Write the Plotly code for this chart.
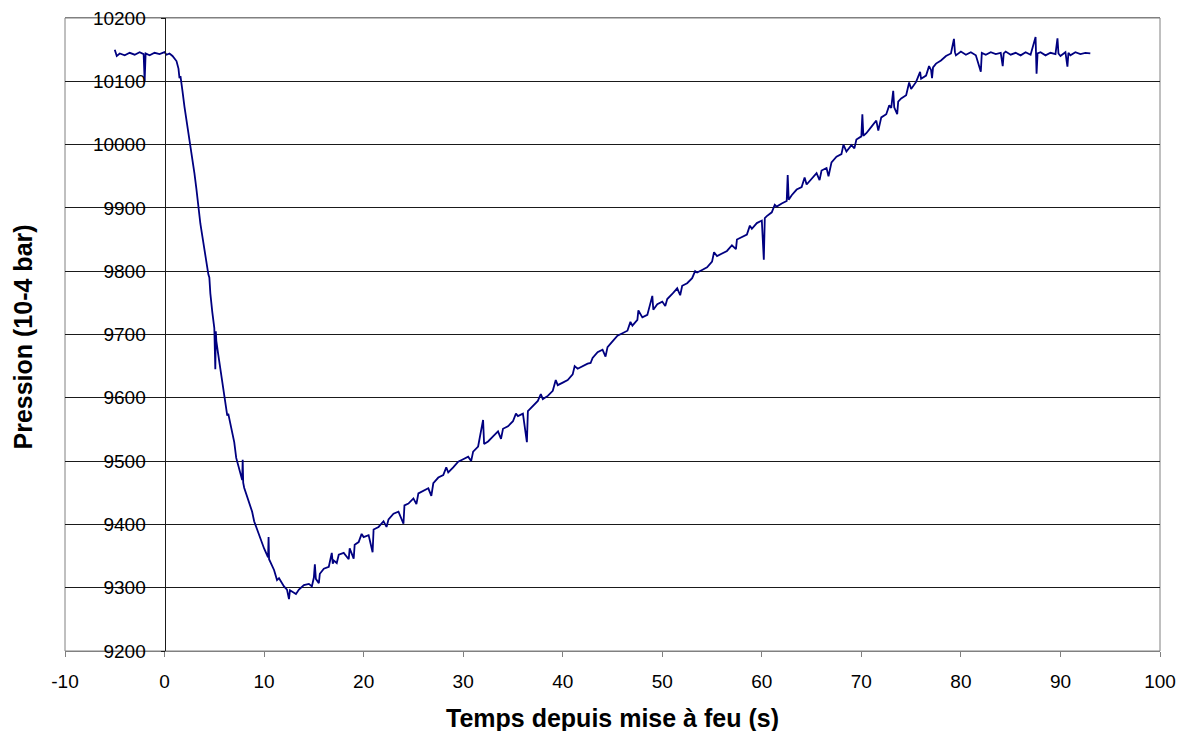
import plotly.graph_objects as go

# ---- data (time in s, pressure in 1e-4 bar) ----
t_drop = [-5.0, -4.8, -4.5, -4.0, -3.5, -3.0, -2.5, -2.1, -2.0, -1.9, -1.5, -1.0, -0.5,
          0.0, 0.2, 0.5, 0.8, 1.0, 1.2, 1.4, 1.5, 1.6, 1.8, 2.0, 2.2, 2.4, 2.6, 2.8,
          3.0, 3.2, 3.4, 3.6, 3.8, 4.0, 4.2, 4.4, 4.6, 4.8, 5.0, 5.1, 5.15, 5.2, 5.4,
          5.6, 5.8, 6.0, 6.2, 6.4, 6.6, 6.8, 7.0, 7.2, 7.4, 7.6, 7.8, 7.85, 7.9, 8.0,
          8.5, 9.0, 9.5, 10.0, 10.4, 10.45, 10.5, 11.0, 11.5, 12.0, 12.3, 12.5, 12.6,
          13.0, 13.5]
p_drop = [10150, 10140, 10144, 10141, 10145, 10142, 10146, 10143, 10100, 10144, 10141, 10145, 10143,
          10146, 10142, 10144, 10140, 10136, 10132, 10120, 10105, 10108, 10085, 10060, 10040, 10018, 9998, 9980,
          9955, 9930, 9897, 9875, 9855, 9833, 9812, 9795, 9765, 9735, 9710, 9645, 9705, 9690, 9668,
          9647, 9625, 9605, 9590, 9575, 9560, 9545, 9530, 9505, 9492, 9480, 9470, 9502, 9466, 9458,
          9432, 9405, 9383, 9362, 9348, 9380, 9345, 9328, 9315, 9302, 9297, 9282, 9296,
          9292, 9297]

t_rise = [14.0, 14.5, 15.0, 15.1, 15.2, 15.5, 15.6, 16.0, 16.5, 16.8, 16.9, 17.0, 17.5, 18.0, 18.5,
          18.6, 19.0, 19.1, 19.5, 20.0, 20.5, 20.9, 21.0, 21.5, 22.0, 22.5, 23.0, 23.5, 24.0, 24.1,
          24.5, 25.0, 25.5, 26.0, 26.5, 27.0, 27.5, 28.0, 28.5, 29.0, 29.5, 30.0, 30.5, 31.0, 31.5,
          32.0, 32.1, 32.5, 33.0, 33.5, 34.0, 34.5, 35.0, 35.5, 36.0, 36.4, 36.5, 37.0, 37.5, 38.0,
          38.5, 39.0, 39.5, 40.0, 40.5, 41.0, 41.5, 42.0, 42.5, 43.0, 43.5, 44.0, 44.5, 45.0, 45.5,
          46.0, 46.5, 47.0, 47.5, 48.0, 48.5, 49.0, 49.1, 49.5, 50.0, 50.5, 51.0, 51.5, 52.0, 52.5,
          53.0, 53.5, 54.0, 54.5, 55.0, 55.5, 56.0, 56.5, 57.0, 57.5, 58.0, 58.5, 59.0, 59.5, 60.0,
          60.2, 60.3, 60.5, 61.0, 61.5, 62.0, 62.5, 62.6, 62.7, 63.0, 63.5, 64.0, 64.5, 65.0, 65.5,
          66.0, 66.5, 67.0, 67.5, 68.0, 68.5, 69.0, 69.5, 70.0, 70.1, 70.2, 70.5, 71.0, 71.5, 72.0,
          72.5, 73.0, 73.2, 73.3, 73.6, 73.7, 74.0, 74.5, 75.0, 75.5, 75.9, 76.0, 76.5, 77.0, 77.1,
          77.2, 77.5, 78.0, 78.5, 79.0]
p_rise = [9304, 9306, 9316, 9337, 9314, 9307, 9322, 9330, 9333, 9355, 9338, 9343, 9352, 9355, 9345,
          9362, 9346, 9368, 9372, 9380, 9383, 9356, 9392, 9396, 9405, 9408, 9417, 9420, 9401, 9430,
          9433, 9441, 9449, 9453, 9457, 9465, 9474, 9478, 9482, 9490, 9499, 9503, 9507, 9515, 9523,
          9565, 9527, 9531, 9539, 9547, 9551, 9555, 9563, 9571, 9575, 9530, 9579, 9587, 9595, 9598,
          9603, 9611, 9620, 9624, 9628, 9637, 9646, 9650, 9654, 9663, 9672, 9676, 9680, 9689, 9698,
          9702, 9706, 9714, 9723, 9727, 9731, 9761, 9739, 9748, 9752, 9756, 9764, 9773, 9777, 9781,
          9789, 9798, 9802, 9806, 9815, 9824, 9828, 9832, 9841, 9850, 9854, 9858, 9867, 9876, 9880,
          9818, 9884, 9887, 9893, 9902, 9907, 9911, 9952, 9913, 9920, 9929, 9933, 9937, 9946, 9955,
          9959, 9963, 9972, 9981, 9985, 9989, 9999, 10008, 10013, 10048, 10014, 10018, 10028, 10038, 10043,
          10048, 10058, 10085, 10059, 10048, 10068, 10073, 10078, 10088, 10099, 10115, 10104, 10109, 10118, 10105,
          10122, 10128, 10133, 10140, 10144]

# small extra glitches visible along the ramp
t_glitch = [1.7, 3.5, 4.5, 6.3, 8.8, 11.3, 13.2, 14.8, 17.3, 19.8, 22.3, 25.3, 26.8, 28.3, 30.8, 33.8,
            35.3, 37.8, 39.3, 41.2, 42.8, 44.3, 46.8, 47.6, 50.3, 51.8, 53.3, 55.2, 57.4, 58.8,
            61.3, 64.3, 65.8, 66.7, 68.2, 69.3, 71.7, 72.8, 74.8, 76.8]
p_glitch = [10098, 9880, 9790, 9572, 9420, 9312, 9290, 9302, 9339, 9385, 9396, 9432, 9445, 9490, 9500, 9535,
            9575, 9606, 9628, 9650, 9655, 9665, 9720, 9738, 9745, 9762, 9800, 9830, 9835, 9872,
            9905, 9948, 9944, 9950, 10000, 9994, 10022, 10062, 10098, 10124]

t_plat = [79.3, 79.4, 79.5, 80.0, 80.5, 81.0, 81.5, 82.0, 82.1, 82.5, 83.0, 83.5, 84.0, 84.2, 84.3,
          84.5, 85.0, 85.5, 86.0, 86.5, 87.0, 87.5, 87.6, 87.7, 88.0, 88.5, 89.0, 89.5, 89.7, 89.8,
          90.0, 90.5, 90.7, 90.8, 91.0, 91.5, 92.0, 92.5, 93.0]
p_plat = [10167, 10146, 10141, 10147, 10142, 10146, 10141, 10115, 10145, 10142, 10146, 10143, 10145, 10124, 10144,
          10147, 10142, 10145, 10141, 10146, 10142, 10170, 10112, 10144, 10146, 10141, 10145, 10143, 10168, 10144,
          10140, 10146, 10123, 10145, 10141, 10146, 10143, 10145, 10144]

x_ticks = [-10, 0, 10, 20, 30, 40, 50, 60, 70, 80, 90, 100]
y_ticks = [9200, 9300, 9400, 9500, 9600, 9700, 9800, 9900, 10000, 10100, 10200]

x_title = "Temps depuis mise à feu (s)"
y_title = "Pression (10-4 bar)"

pairs = sorted(zip(t_drop + t_rise + t_glitch + t_plat, p_drop + p_rise + p_glitch + p_plat))
times = [a for a, _ in pairs]
press = [b for _, b in pairs]

FONT = "Arial, 'Liberation Sans', sans-serif"

fig = go.Figure()
fig.add_trace(go.Scatter(x=times, y=press, mode="lines",
                         line=dict(color="#000080", width=1.8),
                         showlegend=False, hoverinfo="skip"))

x_min, x_max = x_ticks[0], x_ticks[-1]
y_pos = (0 - x_min) / (x_max - x_min)

fig.update_layout(
    width=1179, height=731,
    margin=dict(l=65, r=19, t=18, b=80, autoexpand=False),
    paper_bgcolor="white", plot_bgcolor="white",
    font=dict(family=FONT, color="black", size=19),
    xaxis=dict(range=[x_min, x_max], tickvals=x_ticks, ticktext=[str(v) for v in x_ticks],
               showgrid=False, zeroline=False, automargin=False,
               showline=True, linecolor="#808080", linewidth=1, mirror=True,
               ticks="outside", ticklen=5, tickcolor="#808080",
               ticklabelstandoff=8, tickfont=dict(size=19, family=FONT)),
    yaxis=dict(range=[y_ticks[0], y_ticks[-1]], tickvals=y_ticks, ticktext=[str(v) for v in y_ticks],
               showgrid=True, gridcolor="#1a1a1a", gridwidth=1, zeroline=False, automargin=False,
               anchor="free", position=y_pos,
               showline=True, linecolor="#1a1a1a", linewidth=1,
               ticks="outside", ticklen=4, tickcolor="#1a1a1a",
               ticklabelstandoff=11, tickfont=dict(size=19, family=FONT)),
    shapes=[dict(type="rect", xref="paper", yref="paper", x0=0, x1=1, y0=0, y1=1,
                 line=dict(color="#808080", width=1), layer="below")],
    annotations=[
        dict(text=f"<b>{x_title}</b>", xref="paper", yref="paper", x=0.5, y=0,
             xanchor="center", yanchor="middle", yshift=-67, showarrow=False,
             font=dict(size=25, family=FONT, color="black")),
        dict(text=f"<b>{y_title}</b>", xref="paper", yref="paper", x=0, y=0.5,
             xanchor="center", yanchor="middle", xshift=-43, yshift=-3, textangle=-90,
             showarrow=False, font=dict(size=25, family=FONT, color="black")),
    ],
)

fig.write_html("out.html", config={"displayModeBar": False},
               post_script="document.body.style.margin='0';document.body.style.overflow='hidden';")
